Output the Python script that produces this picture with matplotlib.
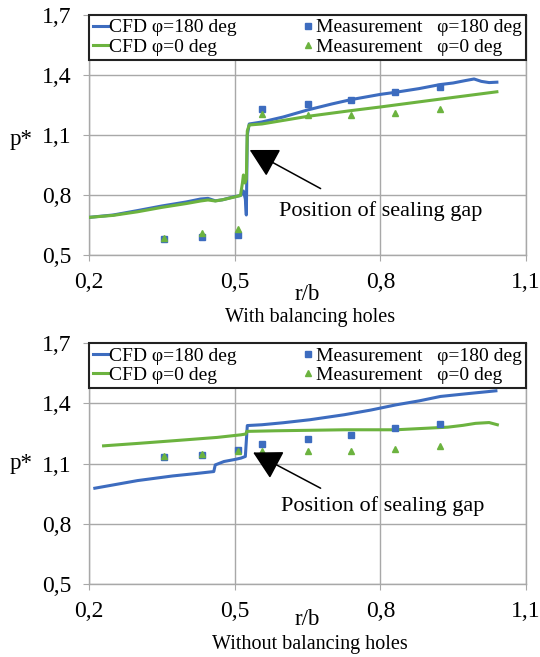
import numpy as np
import matplotlib.pyplot as plt

plt.rcParams['font.family'] = ['Liberation Serif', 'DejaVu Serif']

BLUE = '#3d6cbf'
GREEN = '#6cb33f'
GRID = '#a8a8a8'

xticks = [0.2, 0.5, 0.8, 1.1]
yticks = [0.5, 0.8, 1.1, 1.4, 1.7]
tick_labels_x = ['0,2', '0,5', '0,8', '1,1']
tick_labels_y = ['0,5', '0,8', '1,1', '1,4', '1,7']

# measurement positions (same for both cases)
meas_r = [0.355, 0.432, 0.507, 0.557, 0.650, 0.740, 0.831, 0.923]

# ---- with balancing holes ----
a_cfd180_r = [0.2, 0.25, 0.3, 0.35, 0.4, 0.43, 0.445, 0.46, 0.475, 0.5, 0.512, 0.518, 0.522,
              0.524, 0.526, 0.53, 0.556, 0.6, 0.65, 0.7, 0.74, 0.8, 0.83, 0.88, 0.923, 0.95,
              0.975, 0.993, 1.008, 1.024, 1.04]
a_cfd180_p = [0.688, 0.700, 0.722, 0.745, 0.765, 0.780, 0.783, 0.771, 0.776, 0.792, 0.797, 0.82, 0.78,
              0.70, 1.10, 1.155, 1.165, 1.19, 1.225, 1.255, 1.277, 1.303, 1.313, 1.332, 1.352, 1.360,
              1.372, 1.380, 1.368, 1.362, 1.364]
a_cfd0_r = [0.2, 0.25, 0.3, 0.35, 0.4, 0.43, 0.445, 0.46, 0.475, 0.5, 0.512, 0.516, 0.518, 0.521,
            0.524, 0.526, 0.53, 0.556, 0.65, 0.74, 0.8, 0.9, 1.04]
a_cfd0_p = [0.688, 0.698, 0.716, 0.738, 0.757, 0.770, 0.775, 0.770, 0.776, 0.790, 0.798, 0.86, 0.90, 0.86,
            0.88, 1.12, 1.150, 1.155, 1.193, 1.222, 1.240, 1.272, 1.316]
a_meas180 = [0.580, 0.588, 0.600, 1.232, 1.254, 1.277, 1.313, 1.338]
a_meas0 = [0.583, 0.608, 0.628, 1.205, 1.200, 1.199, 1.210, 1.230]

# ---- without balancing holes ----
b_cfd180_r = [0.212, 0.3, 0.372, 0.42, 0.457, 0.460, 0.478, 0.5, 0.513, 0.522, 0.526, 0.556,
              0.6, 0.655, 0.726, 0.78, 0.832, 0.88, 0.924, 0.98, 1.038]
b_cfd180_p = [0.977, 1.015, 1.038, 1.050, 1.060, 1.093, 1.110, 1.120, 1.127, 1.135, 1.289, 1.293,
              1.303, 1.318, 1.343, 1.366, 1.392, 1.412, 1.434, 1.448, 1.462]
b_cfd0_r = [0.230, 0.3, 0.372, 0.464, 0.513, 0.523, 0.525, 0.584, 0.726, 0.832, 0.939, 0.97,
            0.996, 1.024, 1.041]
b_cfd0_p = [1.188, 1.200, 1.213, 1.230, 1.243, 1.247, 1.260, 1.263, 1.268, 1.268, 1.281, 1.290,
            1.300, 1.304, 1.293]
b_meas180 = [1.130, 1.143, 1.165, 1.198, 1.221, 1.243, 1.275, 1.296]
b_meas0 = [1.135, 1.147, 1.160, 1.163, 1.160, 1.160, 1.171, 1.185]

panels = [
    dict(rect=[0.1648, 0.6119, 0.8093, 0.3653], cfd180=(a_cfd180_r, a_cfd180_p),
         cfd0=(a_cfd0_r, a_cfd0_p), m180=a_meas180, m0=a_meas0,
         tip=(0.531, 1.025), tail=(0.677, 0.832), txt=(0.591, 0.721),
         caption='With balancing holes', cap_y=-0.2625, rb_y=-0.163, p_y=0.48),
    dict(rect=[0.1648, 0.1111, 0.8093, 0.3668], cfd180=(b_cfd180_r, b_cfd180_p),
         cfd0=(b_cfd0_r, b_cfd0_p), m180=b_meas180, m0=b_meas0,
         tip=(0.538, 1.155), tail=(0.677, 0.977), txt=(0.595, 0.886),
         caption='Without balancing holes', cap_y=-0.253, rb_y=-0.149, p_y=0.50),
]

fig = plt.figure(figsize=(5.40, 6.57), dpi=100)

for p in panels:
    ax = fig.add_axes(p['rect'])
    l1, = ax.plot(*p['cfd180'], color=BLUE, lw=2.2, label='CFD φ=180 deg', zorder=3)
    l2, = ax.plot(*p['cfd0'], color=GREEN, lw=2.2, label='CFD φ=0 deg', zorder=3)
    s1, = ax.plot(meas_r, p['m180'], ls='none', marker='s', ms=4.5, color=BLUE,
                  label='Measurement   φ=180 deg', zorder=4)
    s2, = ax.plot(meas_r, p['m0'], ls='none', marker='^', ms=4.5, color=GREEN,
                  label='Measurement   φ=0 deg', zorder=4)

    ax.set_xlim(0.2, 1.1)
    ax.set_ylim(0.5, 1.7)
    ax.set_xticks(xticks)
    ax.set_xticklabels(tick_labels_x)
    ax.set_yticks(yticks)
    ax.set_yticklabels(tick_labels_y)
    ax.tick_params(direction='out', length=4.5, color=GRID, labelsize=17, pad=8)
    ax.grid(True, color=GRID, lw=1)
    for sp in ax.spines.values():
        sp.set_color(GRID)
        sp.set_linewidth(1)

    # column-first fill: left column CFD lines, right column measurements
    leg = ax.legend(handles=[l1, l2, s1, s2], ncol=2, mode='expand', loc='upper left',
                    bbox_to_anchor=(0, 0.804, 1, 0.196), borderaxespad=0, fontsize=14,
                    handlelength=0.8, handletextpad=0.05, borderpad=0.2, labelspacing=0.1,
                    fancybox=False, framealpha=1, markerscale=1.0)
    leg.get_frame().set_edgecolor('#222222')
    leg.get_frame().set_linewidth(1.5)
    leg.set_zorder(10)

    ax.annotate('', xy=p['tip'], xytext=p['tail'],
                arrowprops=dict(arrowstyle='-|>,head_length=1.1,head_width=0.6',
                                mutation_scale=16, color='black', lw=1.1,
                                shrinkA=0, shrinkB=0), zorder=5)
    ax.text(p['txt'][0], p['txt'][1], 'Position of sealing gap', fontsize=16,
            ha='left', va='center', zorder=5)

    ax.set_ylabel('p*', fontsize=16.5, rotation=0, va='center', ha='center')
    ax.yaxis.set_label_coords(-0.155, p['p_y'])
    ax.set_xlabel('r/b', fontsize=16.5, va='center')
    ax.xaxis.set_label_coords(0.5, p['rb_y'])
    ax.text(0.505, p['cap_y'], p['caption'], transform=ax.transAxes, fontsize=14.5,
            ha='center', va='center')

fig.savefig('out.png', dpi=100)
